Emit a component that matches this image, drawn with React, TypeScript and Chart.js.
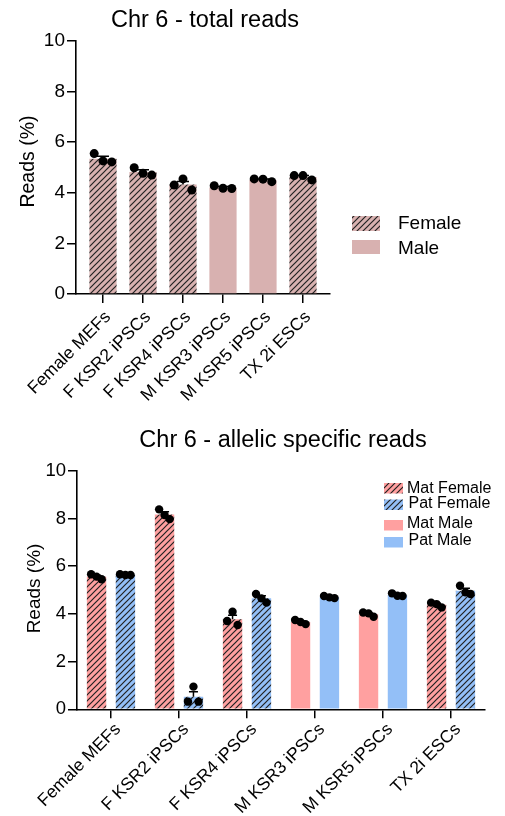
import React, { useEffect, useRef } from 'react';
import { Chart, registerables } from 'chart.js';

Chart.register(...registerables);

// ---------------- data ----------------
const categories = ['Female MEFs', 'F KSR2 iPSCs', 'F KSR4 iPSCs', 'M KSR3 iPSCs', 'M KSR5 iPSCs', 'TX 2i ESCs'];
const sampleSex = ['F', 'F', 'F', 'M', 'M', 'F'];
const yTickValues = [0, 2, 4, 6, 8, 10];

// replicate values (%), total reads on Chr 6
const totalReads = [
  [5.55, 5.26, 5.22],
  [4.99, 4.77, 4.70],
  [4.31, 4.55, 4.11],
  [4.28, 4.18, 4.17],
  [4.55, 4.54, 4.44],
  [4.68, 4.68, 4.51],
];
// replicate values (%), maternal allele reads
const matReads = [
  [5.66, 5.56, 5.45],
  [8.38, 8.14, 7.97],
  [3.70, 4.09, 3.53],
  [3.74, 3.66, 3.57],
  [4.06, 4.02, 3.88],
  [4.47, 4.41, 4.27],
];
// replicate values (%), paternal allele reads
const patReads = [
  [5.66, 5.63, 5.63],
  [0.32, 0.95, 0.32],
  [4.83, 4.65, 4.47],
  [4.75, 4.69, 4.66],
  [4.86, 4.76, 4.75],
  [5.18, 4.90, 4.83],
];

const totalLegend = ['Female', 'Male'];
const allelicLegend = ['Mat Female', 'Pat Female', 'Mat Male', 'Pat Male'];

// ---------------- style ----------------
const FONT = "'Liberation Sans', Arial, Helvetica, sans-serif";
const PINK = '#D8B1B0';
const RED = '#FFA0A0';
const BLUE = '#93BFF7';

const mean = (a: number[]) => a.reduce((s, v) => s + v, 0) / a.length;
const sem = (a: number[]) => {
  const m = mean(a);
  const v = a.reduce((s, x) => s + (x - m) * (x - m), 0) / (a.length - 1);
  return Math.sqrt(v) / Math.sqrt(a.length);
};

function makeHatch(bg: string, size = 6, lw = 1.2): CanvasPattern | string {
  const c = document.createElement('canvas');
  c.width = size;
  c.height = size;
  const g = c.getContext('2d');
  if (!g) return bg;
  g.fillStyle = bg;
  g.fillRect(0, 0, size, size);
  g.strokeStyle = '#222';
  g.lineWidth = lw;
  g.beginPath();
  g.moveTo(-1, size + 1);
  g.lineTo(size + 1, -1);
  g.moveTo(-1, 1);
  g.lineTo(1, -1);
  g.moveTo(size - 1, size + 1);
  g.lineTo(size + 1, size - 1);
  g.stroke();
  const p = g.createPattern(c, 'repeat');
  return p || bg;
}

type LegendItem = { label: string; fill: any; box: [number, number, number, number]; tx: number; ty: number };

function overlayPlugin(cfg: {
  title: string;
  titleY: number;
  titleDx: number;
  titleFont: number;
  yTitle: string;
  yTitleX: number;
  yTitleDy: number;
  yTitleFont: number;
  legendFont: number;
  legend: LegendItem[];
}) {
  return {
    id: 'overlay',
    afterDraw(chart: any) {
      const ctx = chart.ctx as CanvasRenderingContext2D;
      const a = chart.chartArea;
      ctx.save();
      ctx.fillStyle = '#000';
      ctx.font = `${cfg.titleFont}px ${FONT}`;
      ctx.textAlign = 'center';
      ctx.textBaseline = 'alphabetic';
      ctx.fillText(cfg.title, (a.left + a.right) / 2 + cfg.titleDx, cfg.titleY);

      ctx.save();
      ctx.translate(cfg.yTitleX, (a.top + a.bottom) / 2 + cfg.yTitleDy);
      ctx.rotate(-Math.PI / 2);
      ctx.font = `${cfg.yTitleFont}px ${FONT}`;
      ctx.textAlign = 'center';
      ctx.textBaseline = 'middle';
      ctx.fillText(cfg.yTitle, 0, 0);
      ctx.restore();

      ctx.font = `${cfg.legendFont}px ${FONT}`;
      ctx.textAlign = 'left';
      ctx.textBaseline = 'middle';
      for (const it of cfg.legend) {
        ctx.fillStyle = it.fill;
        ctx.fillRect(it.box[0], it.box[1], it.box[2], it.box[3]);
        ctx.fillStyle = '#000';
        ctx.fillText(it.label, it.tx, it.ty);
      }
      ctx.restore();
    },
  };
}

function errorBarPlugin(capHalf: number, lw: number) {
  return {
    id: 'errorBars',
    afterDatasetDraw(chart: any, args: any) {
      const meta = args.meta;
      if (meta.type !== 'bar') return;
      const ds = chart.data.datasets[args.index];
      const reps: number[][] = ds.replicates;
      if (!reps) return;
      const ctx = chart.ctx as CanvasRenderingContext2D;
      const ys = chart.scales.y;
      ctx.save();
      ctx.strokeStyle = '#000';
      ctx.lineWidth = lw;
      meta.data.forEach((bar: any, i: number) => {
        const r = reps[i];
        const m = mean(r);
        const s = sem(r);
        const x = bar.x;
        const y0 = ys.getPixelForValue(m);
        const y1 = ys.getPixelForValue(m + s);
        ctx.beginPath();
        ctx.moveTo(x, y0);
        ctx.lineTo(x, y1);
        ctx.moveTo(x - capHalf, y1);
        ctx.lineTo(x + capHalf, y1);
        ctx.stroke();
      });
      ctx.restore();
    },
  };
}

function xAxis(min: number, max: number, fontSize: number, height: number, labelOffset: number, padding: number) {
  return {
    type: 'linear' as const,
    min,
    max,
    offset: false,
    afterBuildTicks: (scale: any) => {
      scale.ticks = categories.map((_, i) => ({ value: i }));
    },
    afterFit: (scale: any) => {
      scale.height = height;
    },
    grid: {
      display: true,
      offset: false,
      drawOnChartArea: false,
      drawTicks: true,
      tickLength: 9,
      color: '#000',
      lineWidth: 1.5,
    },
    border: { display: true, color: '#000', width: 1.6 },
    ticks: {
      autoSkip: false,
      minRotation: 45,
      maxRotation: 45,
      padding,
      labelOffset,
      color: '#000',
      font: { size: fontSize, family: FONT },
      callback: (v: any) => categories[v as number] ?? '',
    },
  };
}

function yAxis(fontSize: number, width: number) {
  return {
    type: 'linear' as const,
    min: 0,
    max: 10,
    afterBuildTicks: (scale: any) => {
      scale.ticks = yTickValues.map((v) => ({ value: v }));
    },
    afterFit: (scale: any) => {
      scale.width = width;
    },
    grid: {
      display: true,
      drawOnChartArea: false,
      drawTicks: true,
      tickLength: 9,
      color: '#000',
      lineWidth: 1.5,
    },
    border: { display: true, color: '#000', width: 1.6 },
    ticks: {
      padding: 2,
      color: '#000',
      font: { size: fontSize, family: FONT },
    },
  };
}

function TotalChart() {
  const ref = useRef<HTMLCanvasElement>(null);
  useEffect(() => {
    if (!ref.current) return;
    const hatch = makeHatch(PINK, 6, 1.2);
    const fills = sampleSex.map((s) => (s === 'F' ? hatch : PINK));
    const jitter = [-0.22, 0, 0.22];
    const dots: { x: number; y: number }[] = [];
    totalReads.forEach((r, i) => r.forEach((v, j) => dots.push({ x: i + jitter[j], y: v })));

    const chart = new Chart(ref.current, {
      type: 'bar',
      data: {
        datasets: [
          {
            type: 'scatter',
            data: dots,
            order: 0,
            pointRadius: 4.5,
            pointBackgroundColor: '#000',
            pointBorderColor: '#000',
            pointBorderWidth: 0,
          } as any,
          {
            type: 'bar',
            data: totalReads.map((r, i) => ({ x: i, y: mean(r) })),
            replicates: totalReads,
            order: 1,
            backgroundColor: fills,
            borderWidth: 0,
            categoryPercentage: 1,
            barPercentage: 0.68,
          } as any,
        ],
      },
      options: {
        animation: false,
        responsive: false,
        events: [],
        layout: { padding: { top: 41, right: 175, left: 0, bottom: 0 } },
        plugins: { legend: { display: false }, tooltip: { enabled: false }, title: { display: false } },
        scales: {
          x: xAxis(-0.675, 5.675, 17.5, 116, 5, 4),
          y: yAxis(19, 76),
        } as any,
      },
      plugins: [
        errorBarPlugin(6, 1.5),
        overlayPlugin({
          title: 'Chr 6 - total reads',
          titleY: 27,
          titleDx: 2,
          titleFont: 23.5,
          yTitle: 'Reads (%)',
          yTitleX: 29,
          yTitleDy: -6,
          yTitleFont: 19.5,
          legendFont: 19,
          legend: [
            { label: totalLegend[0], fill: hatch, box: [352, 216, 28, 15], tx: 398, ty: 223.5 },
            { label: totalLegend[1], fill: PINK, box: [352, 240, 28, 14], tx: 398, ty: 248.5 },
          ],
        }),
      ] as any,
    });
    return () => chart.destroy();
  }, []);
  return <canvas ref={ref} width={505} height={410} style={{ display: 'block', width: 505, height: 410 }} />;
}

function AllelicChart() {
  const ref = useRef<HTMLCanvasElement>(null);
  useEffect(() => {
    if (!ref.current) return;
    const redHatch = makeHatch(RED, 6, 1.2);
    const blueHatch = makeHatch(BLUE, 6, 1.2);
    const matFills = sampleSex.map((s) => (s === 'F' ? redHatch : RED));
    const patFills = sampleSex.map((s) => (s === 'F' ? blueHatch : BLUE));
    const catPct = 0.85;
    const groupOffset = catPct / 4;
    const jitter = [-0.08, 0, 0.075];
    const dots: { x: number; y: number }[] = [];
    matReads.forEach((r, i) => r.forEach((v, j) => dots.push({ x: i - groupOffset + jitter[j], y: v })));
    patReads.forEach((r, i) => r.forEach((v, j) => dots.push({ x: i + groupOffset + jitter[j], y: v })));

    const chart = new Chart(ref.current, {
      type: 'bar',
      data: {
        datasets: [
          {
            type: 'scatter',
            data: dots,
            order: 0,
            pointRadius: 4.2,
            pointBackgroundColor: '#000',
            pointBorderColor: '#000',
            pointBorderWidth: 0,
          } as any,
          {
            type: 'bar',
            data: matReads.map((r, i) => ({ x: i, y: mean(r) })),
            replicates: matReads,
            order: 1,
            backgroundColor: matFills,
            borderWidth: 0,
            categoryPercentage: catPct,
            barPercentage: 0.67,
          } as any,
          {
            type: 'bar',
            data: patReads.map((r, i) => ({ x: i, y: mean(r) })),
            replicates: patReads,
            order: 1,
            backgroundColor: patFills,
            borderWidth: 0,
            categoryPercentage: catPct,
            barPercentage: 0.67,
          } as any,
        ],
      },
      options: {
        animation: false,
        responsive: false,
        events: [],
        layout: { padding: { top: 60.7, right: 20, left: 0, bottom: 0 } },
        plugins: { legend: { display: false }, tooltip: { enabled: false }, title: { display: false } },
        scales: {
          x: xAxis(-0.5, 5.5, 17.5, 106.7, 7, 1),
          y: yAxis(18.5, 77),
        } as any,
      },
      plugins: [
        errorBarPlugin(4.5, 1.5),
        overlayPlugin({
          title: 'Chr 6 - allelic specific reads',
          titleY: 36.5,
          titleDx: 2,
          titleFont: 23.5,
          yTitle: 'Reads (%)',
          yTitleX: 35,
          yTitleDy: -1.5,
          yTitleFont: 19,
          legendFont: 16,
          legend: [
            { label: allelicLegend[0], fill: redHatch, box: [384, 73, 19, 10.5], tx: 407, ty: 78.5 },
            { label: allelicLegend[1], fill: blueHatch, box: [384, 89.5, 19, 10.5], tx: 408.5, ty: 93.5 },
            { label: allelicLegend[2], fill: RED, box: [384, 110, 19, 10.5], tx: 407, ty: 113.5 },
            { label: allelicLegend[3], fill: BLUE, box: [384, 127, 19, 10.5], tx: 408.5, ty: 130.5 },
          ],
        }),
      ] as any,
    });
    return () => chart.destroy();
  }, []);
  return <canvas ref={ref} width={505} height={406} style={{ display: 'block', width: 505, height: 406 }} />;
}

export default function App() {
  return (
    <div style={{ position: 'absolute', left: 0, top: 0, width: 505, height: 816, background: '#fff' }}>
      <TotalChart />
      <AllelicChart />
    </div>
  );
}
